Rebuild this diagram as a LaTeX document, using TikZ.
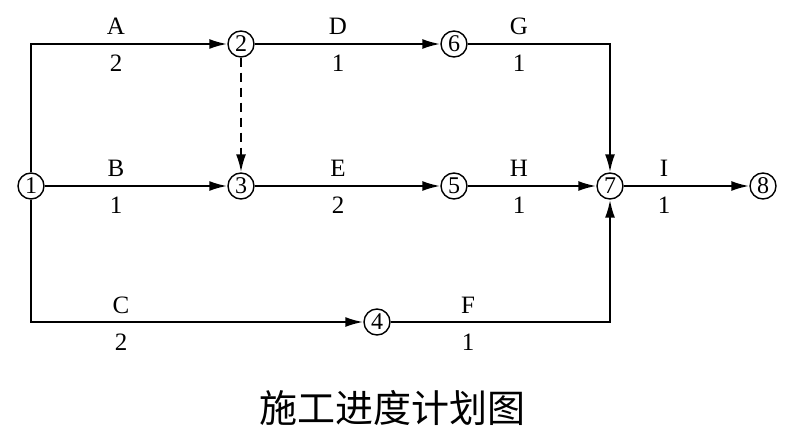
\documentclass[tikz,border=0pt]{standalone}
\usepackage{fontspec}
\setmainfont{Liberation Serif}
\newfontfamily\cjk{Noto Sans CJK SC}
\usetikzlibrary{arrows.meta}
\tikzset{
  ev/.style={circle,draw,line width=1.4pt,inner sep=0pt,minimum size=26pt,font=\fontsize{24}{24}\selectfont},
  lbl/.style={font=\fontsize{25}{25}\selectfont,inner sep=0pt},
  arr/.style={line width=2.2pt,-{Latex[length=18pt,width=10pt]}},
}
\begin{document}
\begin{tikzpicture}[x=1pt,y=-1pt]
\useasboundingbox (0,0) rectangle (799,441);
\node[ev] (n1) at (31,186) {1};
\node[ev] (n2) at (241,44) {2};
\node[ev] (n6) at (454,44) {6};
\node[ev] (n3) at (241,186) {3};
\node[ev] (n5) at (454,186) {5};
\node[ev] (n7) at (610,186) {7};
\node[ev] (n8) at (763,186) {8};
\node[ev] (n4) at (377,322) {4};
\draw[arr] (n1) |- (n2);
\draw[arr] (n1) -- (n3);
\draw[arr] (n1) |- (n4);
\draw[arr] (n2) -- (n6);
\draw[arr,dash pattern=on 9pt off 6pt] (n2) -- (n3);
\draw[arr] (n3) -- (n5);
\draw[arr] (n6) -| (n7);
\draw[arr] (n5) -- (n7);
\draw[arr] (n4) -| (n7);
\draw[arr] (n7) -- (n8);
\node[lbl] (lA) at (116,26) {A};
\node[lbl] (dA) at (116,63) {2};
\node[lbl] (lD) at (338,26) {D};
\node[lbl] (dD) at (338,63) {1};
\node[lbl] (lG) at (519,26) {G};
\node[lbl] (dG) at (519,63) {1};
\node[lbl] (lB) at (116,168) {B};
\node[lbl] (dB) at (116,205) {1};
\node[lbl] (lE) at (338,168) {E};
\node[lbl] (dE) at (338,205) {2};
\node[lbl] (lH) at (519,168) {H};
\node[lbl] (dH) at (519,205) {1};
\node[lbl] (lI) at (664,168) {I};
\node[lbl] (dI) at (664,205) {1};
\node[lbl] (lC) at (121,305) {C};
\node[lbl] (dC) at (121,342) {2};
\node[lbl] (lF) at (468,305) {F};
\node[lbl] (dF) at (468,342) {1};
\node[font=\cjk\fontsize{38}{38}\selectfont,inner sep=0pt] (title) at (392,408) {施工进度计划图};
\end{tikzpicture}
\end{document}
